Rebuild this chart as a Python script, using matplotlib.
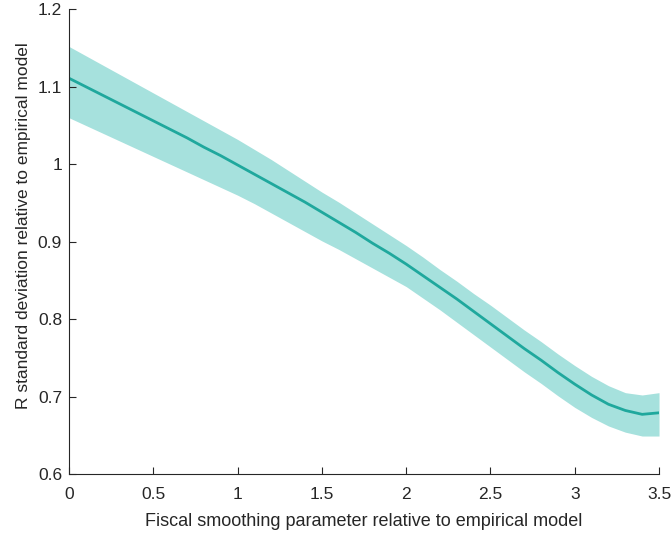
import matplotlib
matplotlib.use("Agg")
import matplotlib.pyplot as plt

# fiscal smoothing parameter grid and the R std-dev ratio (mean + band)
smoothing = [0.0, 0.1, 0.2, 0.3, 0.4, 0.5, 0.6, 0.7, 0.8, 0.9,
             1.0, 1.1, 1.2, 1.3, 1.4, 1.5, 1.6, 1.7, 1.8, 1.9,
             2.0, 2.1, 2.2, 2.3, 2.4, 2.5, 2.6, 2.7, 2.8, 2.9,
             3.0, 3.1, 3.2, 3.3, 3.4, 3.5]
r_std_mean = [1.111, 1.100, 1.089, 1.078, 1.067, 1.056, 1.045, 1.034, 1.022, 1.011,
              0.999, 0.987, 0.975, 0.963, 0.951, 0.938, 0.925, 0.912, 0.898, 0.885,
              0.871, 0.856, 0.841, 0.826, 0.810, 0.794, 0.778, 0.762, 0.747, 0.731,
              0.716, 0.702, 0.690, 0.682, 0.677, 0.679]
r_std_upper = [1.152, 1.140, 1.128, 1.116, 1.104, 1.092, 1.080, 1.068, 1.056, 1.044,
               1.032, 1.019, 1.006, 0.992, 0.978, 0.964, 0.951, 0.937, 0.923, 0.909,
               0.895, 0.880, 0.864, 0.849, 0.833, 0.818, 0.802, 0.786, 0.771, 0.755,
               0.740, 0.726, 0.714, 0.705, 0.702, 0.705]
r_std_lower = [1.060, 1.050, 1.040, 1.030, 1.020, 1.010, 1.000, 0.990, 0.980, 0.970,
               0.960, 0.949, 0.937, 0.925, 0.913, 0.901, 0.890, 0.878, 0.866, 0.854,
               0.842, 0.827, 0.812, 0.796, 0.780, 0.764, 0.748, 0.732, 0.717, 0.701,
               0.686, 0.673, 0.662, 0.654, 0.649, 0.649]

x_ticks = [0, 0.5, 1, 1.5, 2, 2.5, 3, 3.5]
x_tick_labels = ["0", "0.5", "1", "1.5", "2", "2.5", "3", "3.5"]
y_ticks = [0.6, 0.7, 0.8, 0.9, 1.0, 1.1, 1.2]
y_tick_labels = ["0.6", "0.7", "0.8", "0.9", "1", "1.1", "1.2"]

plt.rcParams["font.family"] = ["Liberation Sans", "DejaVu Sans"]
text_color = "#262626"

fig = plt.figure(figsize=(6.72, 5.38), dpi=100)
ax = fig.add_axes([0.1027, 0.119, 0.878, 0.8637])

ax.fill_between(smoothing, r_std_lower, r_std_upper, color="#a6e1dd", linewidth=0)
ax.plot(smoothing, r_std_mean, color="#1fa89d", linewidth=2)

ax.set_xlim(0, 3.5)
ax.set_ylim(0.6, 1.2)
ax.set_xticks(x_ticks)
ax.set_xticklabels(x_tick_labels)
ax.set_yticks(y_ticks)
ax.set_yticklabels(y_tick_labels)

ax.spines["top"].set_visible(False)
ax.spines["right"].set_visible(False)
for side in ("left", "bottom"):
    ax.spines[side].set_color(text_color)
    ax.spines[side].set_linewidth(0.8)

ax.tick_params(direction="in", length=5, width=0.8, colors=text_color,
               labelsize=12.5)
ax.tick_params(axis="x", pad=9.5)
ax.tick_params(axis="y", pad=5)
ax.set_xlabel("Fiscal smoothing parameter relative to empirical model",
              fontsize=13, color=text_color, labelpad=7.5)
ax.set_ylabel("R standard deviation relative to empirical model",
              fontsize=12.5, color=text_color, labelpad=5, y=0.534)

fig.savefig("out.png", dpi=100)
